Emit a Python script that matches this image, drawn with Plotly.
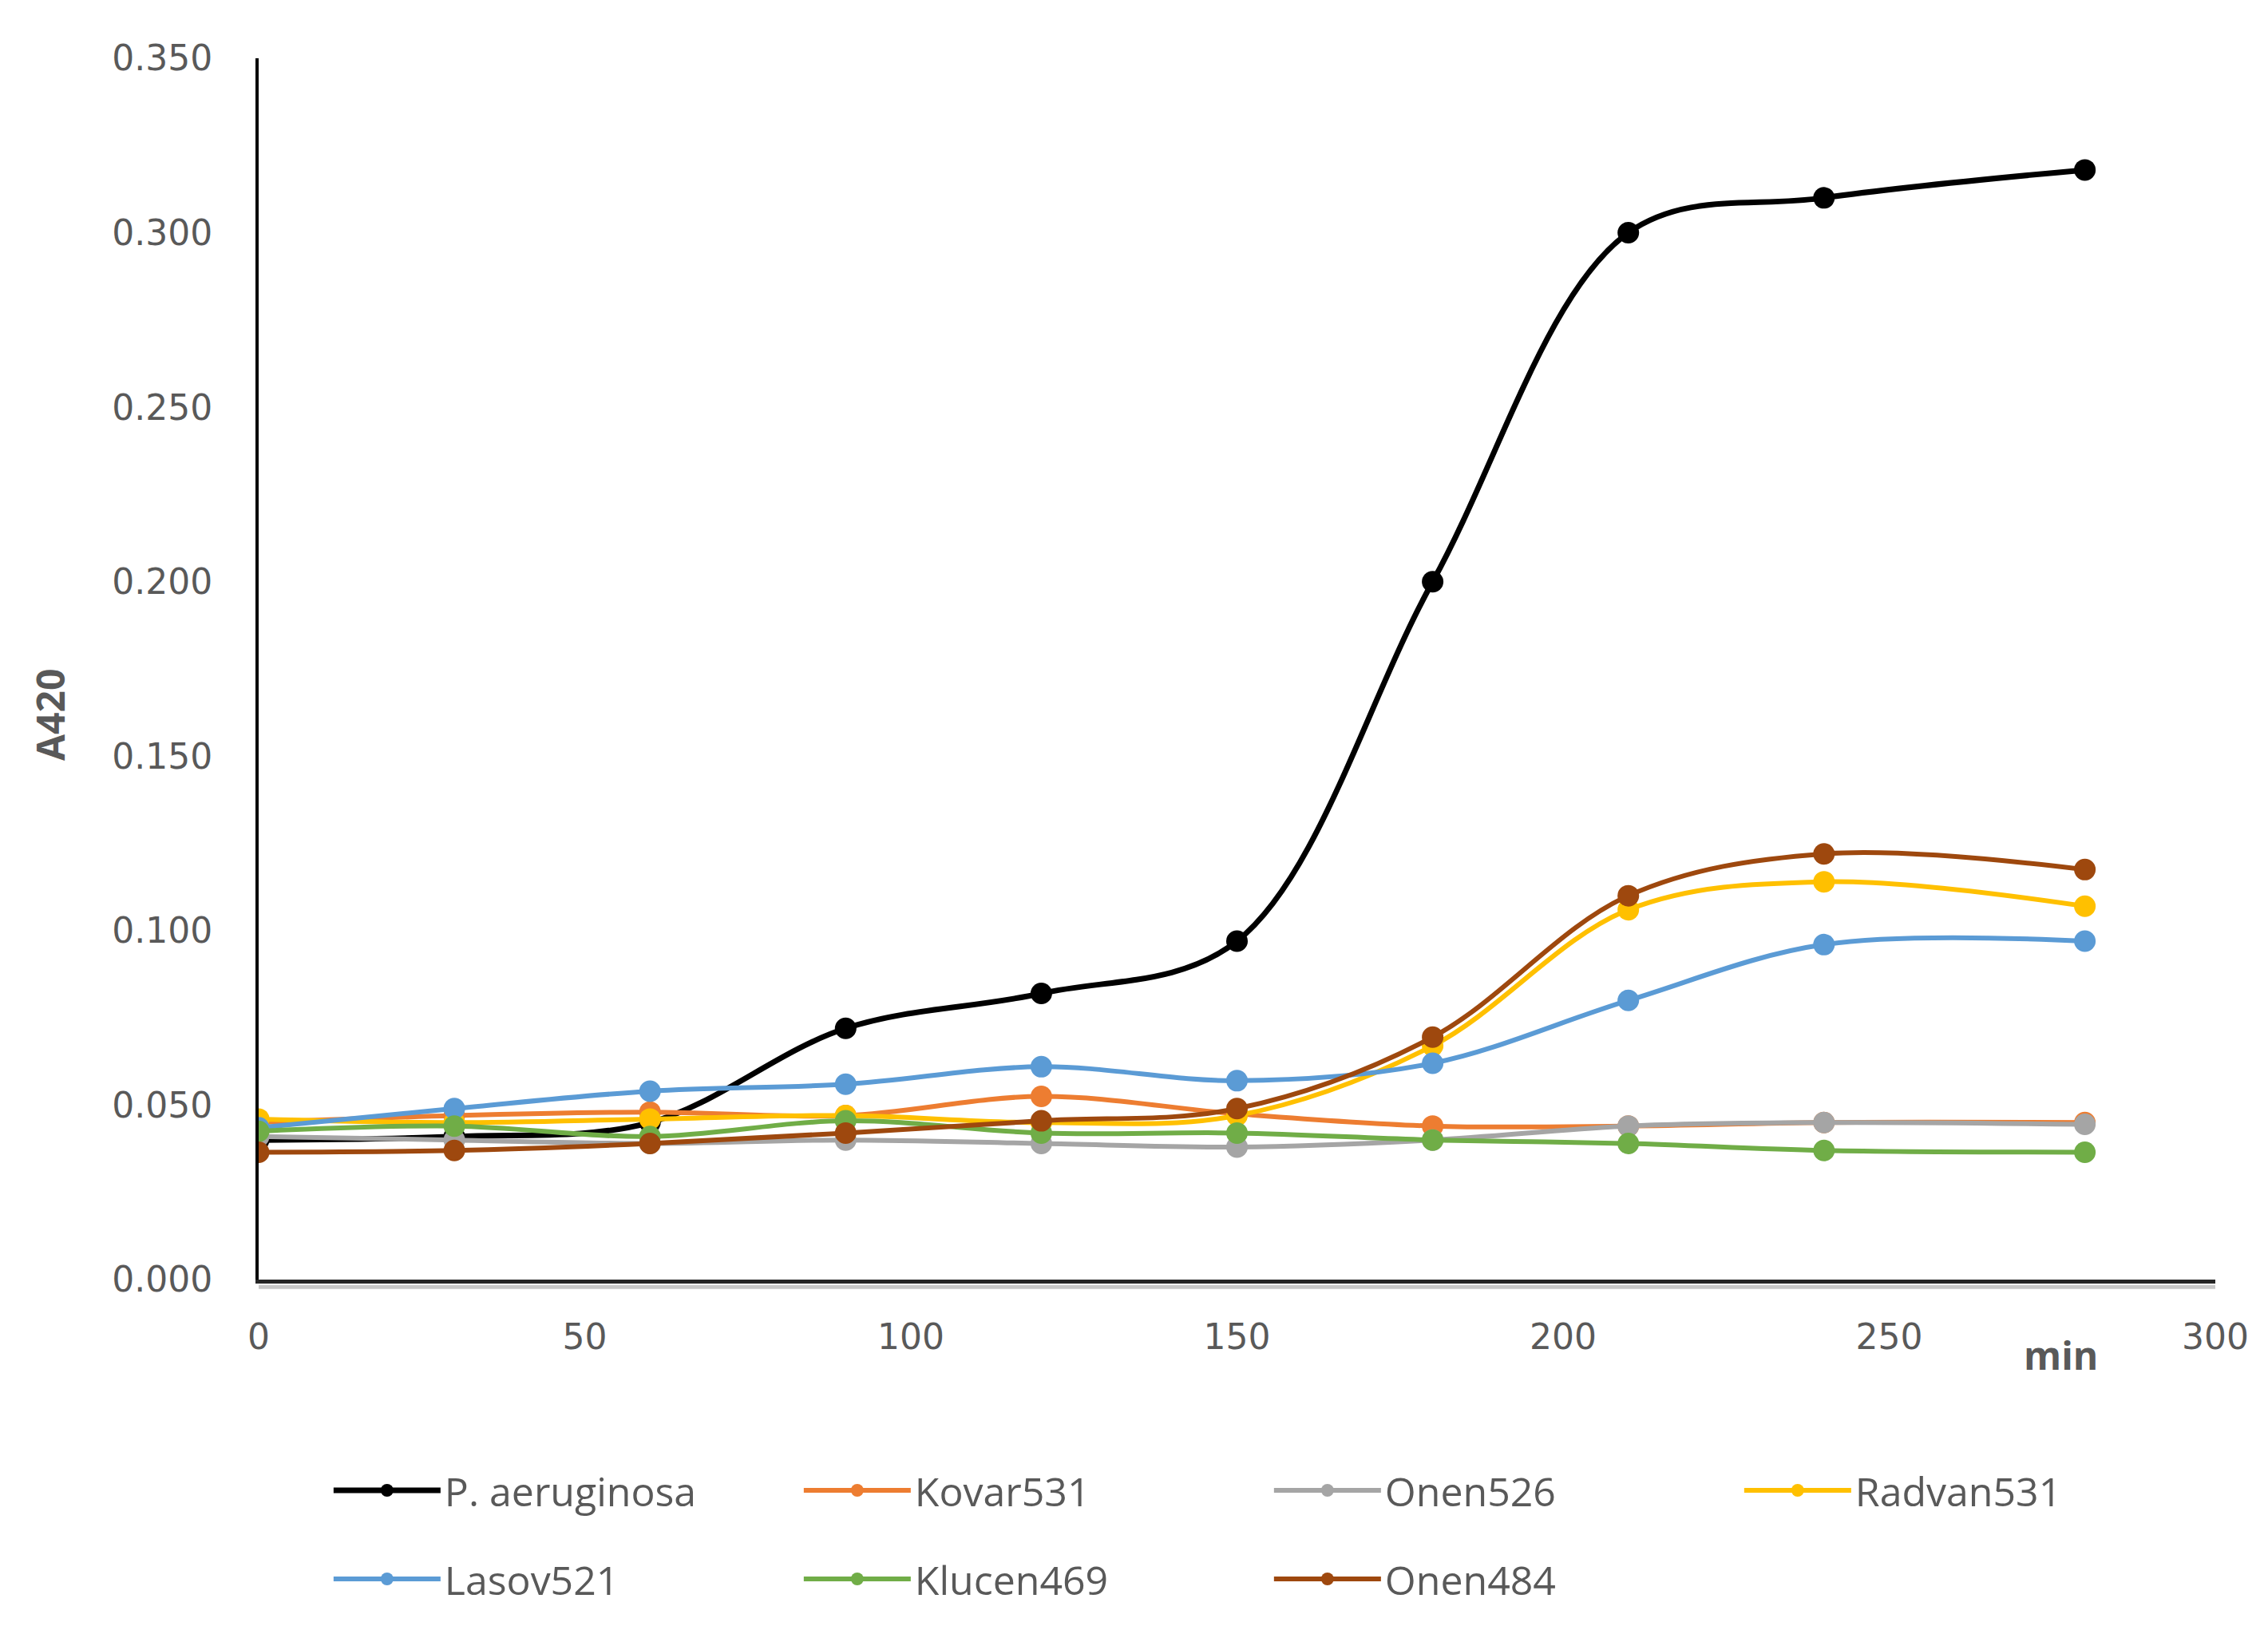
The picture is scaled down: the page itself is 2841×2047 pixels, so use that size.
import plotly.graph_objects as go

minutes = [0, 30, 60, 90, 120, 150, 180, 210, 240, 280]

series_names = ["P. aeruginosa", "Kovar531", "Onen526", "Radvan531",
                "Lasov521", "Klucen469", "Onen484"]

p_aeruginosa = [0.040, 0.041, 0.045, 0.072, 0.082, 0.097, 0.200, 0.300, 0.310, 0.318]
kovar531     = [0.045, 0.047, 0.048, 0.047, 0.0525, 0.0475, 0.044, 0.044, 0.045, 0.045]
onen526      = [0.041, 0.040, 0.039, 0.040, 0.039, 0.038, 0.040, 0.044, 0.045, 0.0445]
radvan531    = [0.046, 0.045, 0.046, 0.047, 0.045, 0.047, 0.067, 0.106, 0.114, 0.107]
lasov521     = [0.0435, 0.049, 0.054, 0.056, 0.061, 0.057, 0.062, 0.080, 0.096, 0.097]
klucen469    = [0.0425, 0.044, 0.041, 0.0455, 0.042, 0.042, 0.040, 0.039, 0.037, 0.0365]
onen484      = [0.0365, 0.037, 0.039, 0.042, 0.0455, 0.049, 0.0695, 0.110, 0.122, 0.1175]

values = [p_aeruginosa, kovar531, onen526, radvan531, lasov521, klucen469, onen484]
colors = ["#000000", "#ED7D31", "#A5A5A5", "#FFC000", "#5B9BD5", "#70AD47", "#9E480E"]

W, H = 2841, 2047
L, R, T, B = 316, 2767, 65, 1595

fig = go.Figure()
for i, (name, vals, col) in enumerate(zip(series_names, values, colors)):
    fig.add_trace(go.Scatter(
        x=minutes, y=vals, name=name, mode="lines+markers",
        line=dict(color=col, width=7 if i == 0 else 6, shape="spline", smoothing=1.0),
        marker=dict(color=col, size=27),
        legend="legend" if i < 4 else "legend2",
    ))

tickfont = dict(family="DejaVu Sans", size=44, color="#595959")
legfont = dict(family="Open Sans", size=50, color="#595959")

fig.update_layout(
    width=W, height=H,
    margin=dict(l=L, r=W - R, t=T, b=H - B, pad=0),
    paper_bgcolor="white", plot_bgcolor="white",
    xaxis=dict(range=[0, 300], dtick=50, showgrid=False, zeroline=False,
               showline=True, linecolor="#262626", linewidth=5,
               ticks="", tickfont=tickfont, ticklabelstandoff=29),
    yaxis=dict(range=[0, 0.35], dtick=0.05, tickformat=".3f", showgrid=False,
               zeroline=False, showline=True, linecolor="#000000", linewidth=4,
               ticks="", tickfont=tickfont, ticklabelstandoff=45),
    legend=dict(orientation="h", xref="container", yref="container",
                x=0.1425, y=1 - 1859 / H, xanchor="left", yanchor="middle",
                font=legfont, entrywidth=440, entrywidthmode="pixels",
                itemwidth=134, bgcolor="rgba(0,0,0,0)"),
    legend2=dict(orientation="h", xref="container", yref="container",
                 x=0.1425, y=1 - 1970 / H, xanchor="left", yanchor="middle",
                 font=legfont, entrywidth=440, entrywidthmode="pixels",
                 itemwidth=134, bgcolor="rgba(0,0,0,0)"),
    showlegend=True,
)

# shadow under the x-axis line
fig.add_shape(type="line", xref="paper", yref="paper", x0=0, x1=1,
              y0=-0.006, y1=-0.006, line=dict(color="#C8C8C8", width=5), layer="below")

fig.add_annotation(text="<b>A420</b>", xref="paper", yref="paper",
                   x=(54 - L) / (R - L), y=(B - 888) / (B - T),
                   xanchor="center", yanchor="middle",
                   textangle=-90, showarrow=False,
                   font=dict(family="Open Sans", size=48, color="#595959"))
fig.add_annotation(text="<b>min</b>", xref="paper", yref="paper",
                   x=(2573 - L) / (R - L), y=(B - 1689) / (B - T),
                   xanchor="center", yanchor="middle",
                   showarrow=False,
                   font=dict(family="Open Sans", size=48, color="#595959"))

fig.write_html("out.html")
